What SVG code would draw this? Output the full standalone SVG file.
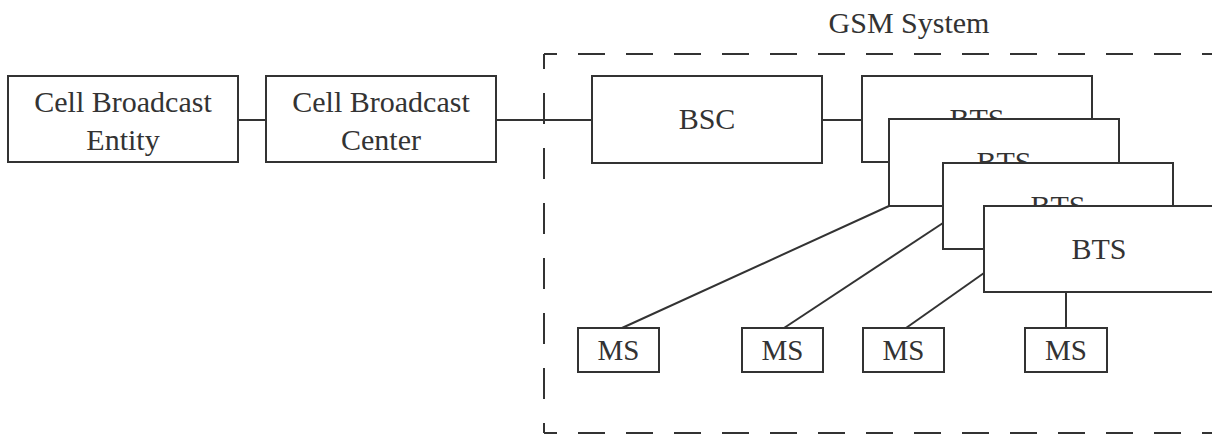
<svg xmlns="http://www.w3.org/2000/svg" width="1212" height="436" viewBox="0 0 1212 436">
<style>
.box{fill:#fff;stroke:#333;stroke-width:2}
.t{font-family:"Liberation Serif","Times New Roman",serif;font-size:30px;fill:#333;text-anchor:middle}
.ms{font-size:29px}
.conn{stroke:#333;stroke-width:2;fill:none}
.dash{stroke:#333;stroke-width:2;fill:none}
</style>
<rect width="1212" height="436" fill="#fff"/>
<g id="gsm-system">
<line class="dash" x1="544" y1="54" x2="1212" y2="54" stroke-dasharray="27 21" stroke-dashoffset="14"/>
<line class="dash" x1="544" y1="433" x2="1212" y2="433" stroke-dasharray="27 21" stroke-dashoffset="14"/>
<line class="dash" x1="544" y1="54" x2="544" y2="433" stroke-dasharray="31 24" stroke-dashoffset="16"/>
<text class="t" x="909" y="33">GSM System</text>
</g>
<g id="connectors">
<line class="conn" x1="238" y1="120" x2="266" y2="120"/>
<line class="conn" x1="496" y1="120" x2="592" y2="120"/>
<line class="conn" x1="822" y1="120" x2="862" y2="120"/>
<line class="conn" x1="622" y1="328" x2="889" y2="206"/>
<line class="conn" x1="784" y1="328" x2="943" y2="223"/>
<line class="conn" x1="906" y1="328" x2="984" y2="273"/>
<line class="conn" x1="1066" y1="328" x2="1066" y2="292"/>
</g>
<g id="cbe">
<rect class="box" x="8" y="76" width="230" height="86"/>
<text class="t" x="123" y="112">Cell Broadcast</text>
<text class="t" x="123" y="150">Entity</text>
</g>
<g id="cbc">
<rect class="box" x="266" y="76" width="230" height="86"/>
<text class="t" x="381" y="112">Cell Broadcast</text>
<text class="t" x="381" y="150">Center</text>
</g>
<g id="bsc">
<rect class="box" x="592" y="76" width="230" height="87"/>
<text class="t" x="707" y="129">BSC</text>
</g>
<g id="bts1">
<rect class="box" x="862" y="76" width="230" height="86"/>
<text class="t" x="977" y="129">BTS</text>
</g>
<g id="bts2">
<rect class="box" x="889" y="119" width="230" height="87"/>
<text class="t" x="1004" y="172">BTS</text>
</g>
<g id="bts3">
<rect class="box" x="943" y="163" width="230" height="86"/>
<text class="t" x="1058" y="216">BTS</text>
</g>
<g id="bts4">
<rect class="box" x="984" y="206" width="232" height="86"/>
<text class="t" x="1099" y="259">BTS</text>
</g>
<g id="ms1">
<rect class="box" x="578" y="328" width="81" height="44"/>
<text class="t ms" x="618.5" y="360">MS</text>
</g>
<g id="ms2">
<rect class="box" x="742" y="328" width="81" height="44"/>
<text class="t ms" x="782.5" y="360">MS</text>
</g>
<g id="ms3">
<rect class="box" x="863" y="328" width="81" height="44"/>
<text class="t ms" x="903.5" y="360">MS</text>
</g>
<g id="ms4">
<rect class="box" x="1025" y="328" width="82" height="44"/>
<text class="t ms" x="1066" y="360">MS</text>
</g>
</svg>
